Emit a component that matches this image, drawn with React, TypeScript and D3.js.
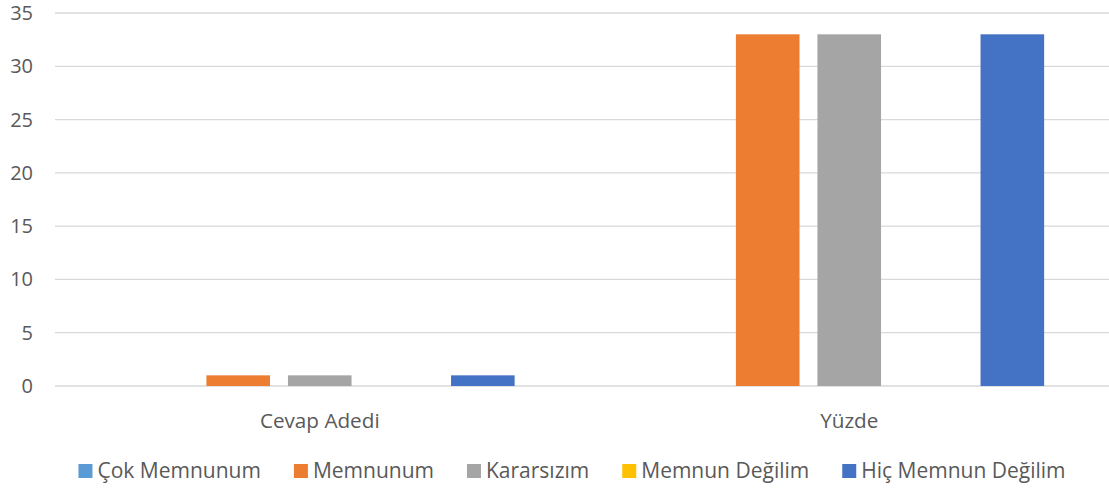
import { useEffect, useRef } from "react";
import * as d3 from "d3";

const categories = ["Cevap Adedi", "Yüzde"];
const seriesNames = [
  "Çok Memnunum",
  "Memnunum",
  "Kararsızım",
  "Memnun Değilim",
  "Hiç Memnun Değilim",
];
const seriesColors = ["#5B9BD5", "#ED7D31", "#A5A5A5", "#FFC000", "#4472C4"];
// values per series, one per category
const cevapAdedi = [0, 1, 1, 0, 1];
const yuzde = [0, 33, 33, 0, 33];
const yTicks = [0, 5, 10, 15, 20, 25, 30, 35];

const W = 1109;
const H = 492;
const FONT = "'Open Sans', 'Noto Sans', sans-serif";
const TEXT_COLOR = "#595959";

export default function App() {
  const svgRef = useRef<SVGSVGElement>(null);

  useEffect(() => {
    if (!svgRef.current) return;
    const svg = d3.select(svgRef.current);
    svg.selectAll("*").remove();

    const margin = { top: 13, right: -5, bottom: 106, left: 55 };
    const values = [cevapAdedi, yuzde];

    const y = d3
      .scaleLinear()
      .domain([0, 35])
      .range([H - margin.bottom, margin.top]);

    const x0 = d3
      .scaleBand<string>()
      .domain(categories)
      .range([margin.left, W - margin.right])
      .paddingInner(0.23)
      .paddingOuter(0.115);

    const x1 = d3
      .scaleBand<string>()
      .domain(seriesNames)
      .range([0, x0.bandwidth()])
      .paddingInner(0.22)
      .paddingOuter(0.11);

    // gridlines
    svg
      .append("g")
      .selectAll("line")
      .data(yTicks)
      .enter()
      .append("line")
      .attr("x1", margin.left)
      .attr("x2", W)
      .attr("y1", (d) => y(d))
      .attr("y2", (d) => y(d))
      .attr("stroke", "#D9D9D9")
      .attr("stroke-width", 1.3);

    // y labels
    svg
      .append("g")
      .selectAll("text")
      .data(yTicks)
      .enter()
      .append("text")
      .attr("x", 33)
      .attr("y", (d) => y(d))
      .attr("dy", "0.35em")
      .attr("text-anchor", "end")
      .style("font-family", FONT)
      .style("font-size", "20px")
      .style("fill", TEXT_COLOR)
      .text((d) => d);

    // bars
    const groups = svg
      .append("g")
      .selectAll("g")
      .data(categories)
      .enter()
      .append("g")
      .attr("transform", (d) => `translate(${x0(d)},0)`);

    groups
      .selectAll("rect")
      .data((_d, ci) =>
        seriesNames.map((s, si) => ({ s, si, v: values[ci][si] }))
      )
      .enter()
      .append("rect")
      .attr("x", (d) => x1(d.s)!)
      .attr("width", x1.bandwidth())
      .attr("y", (d) => y(d.v))
      .attr("height", (d) => y(0) - y(d.v))
      .attr("fill", (d) => seriesColors[d.si]);

    // category labels
    svg
      .append("g")
      .selectAll("text")
      .data(categories)
      .enter()
      .append("text")
      .attr("x", (d) => x0(d)! + x0.bandwidth() / 2)
      .attr("y", 428)
      .attr("text-anchor", "middle")
      .style("font-family", FONT)
      .style("font-size", "20.7px")
      .style("fill", TEXT_COLOR)
      .text((d) => d);

    // legend
    const legend = svg.append("g");
    const items = legend
      .selectAll("g")
      .data(seriesNames)
      .enter()
      .append("g");
    items
      .append("rect")
      .attr("width", 14)
      .attr("height", 14)
      .attr("y", 464)
      .attr("fill", (_d, i) => seriesColors[i]);
    items
      .append("text")
      .attr("x", 19)
      .attr("y", 478)
      .style("font-family", FONT)
      .style("font-size", "21px")
      .style("fill", TEXT_COLOR)
      .text((d) => d);

    const widths: number[] = [];
    items.each(function () {
      const t = d3.select(this).select("text").node() as SVGTextElement;
      widths.push(19 + t.getComputedTextLength());
    });
    const gap = 33;
    const total = d3.sum(widths) + gap * (widths.length - 1);
    let cx = 572 - total / 2;
    items.attr("transform", (_d, i) => {
      const tx = cx;
      cx += widths[i] + gap;
      return `translate(${tx},0)`;
    });
  }, []);

  return (
    <svg
      ref={svgRef}
      width={W}
      height={H}
      style={{ position: "absolute", left: 0, top: 0, background: "#fff" }}
    />
  );
}
